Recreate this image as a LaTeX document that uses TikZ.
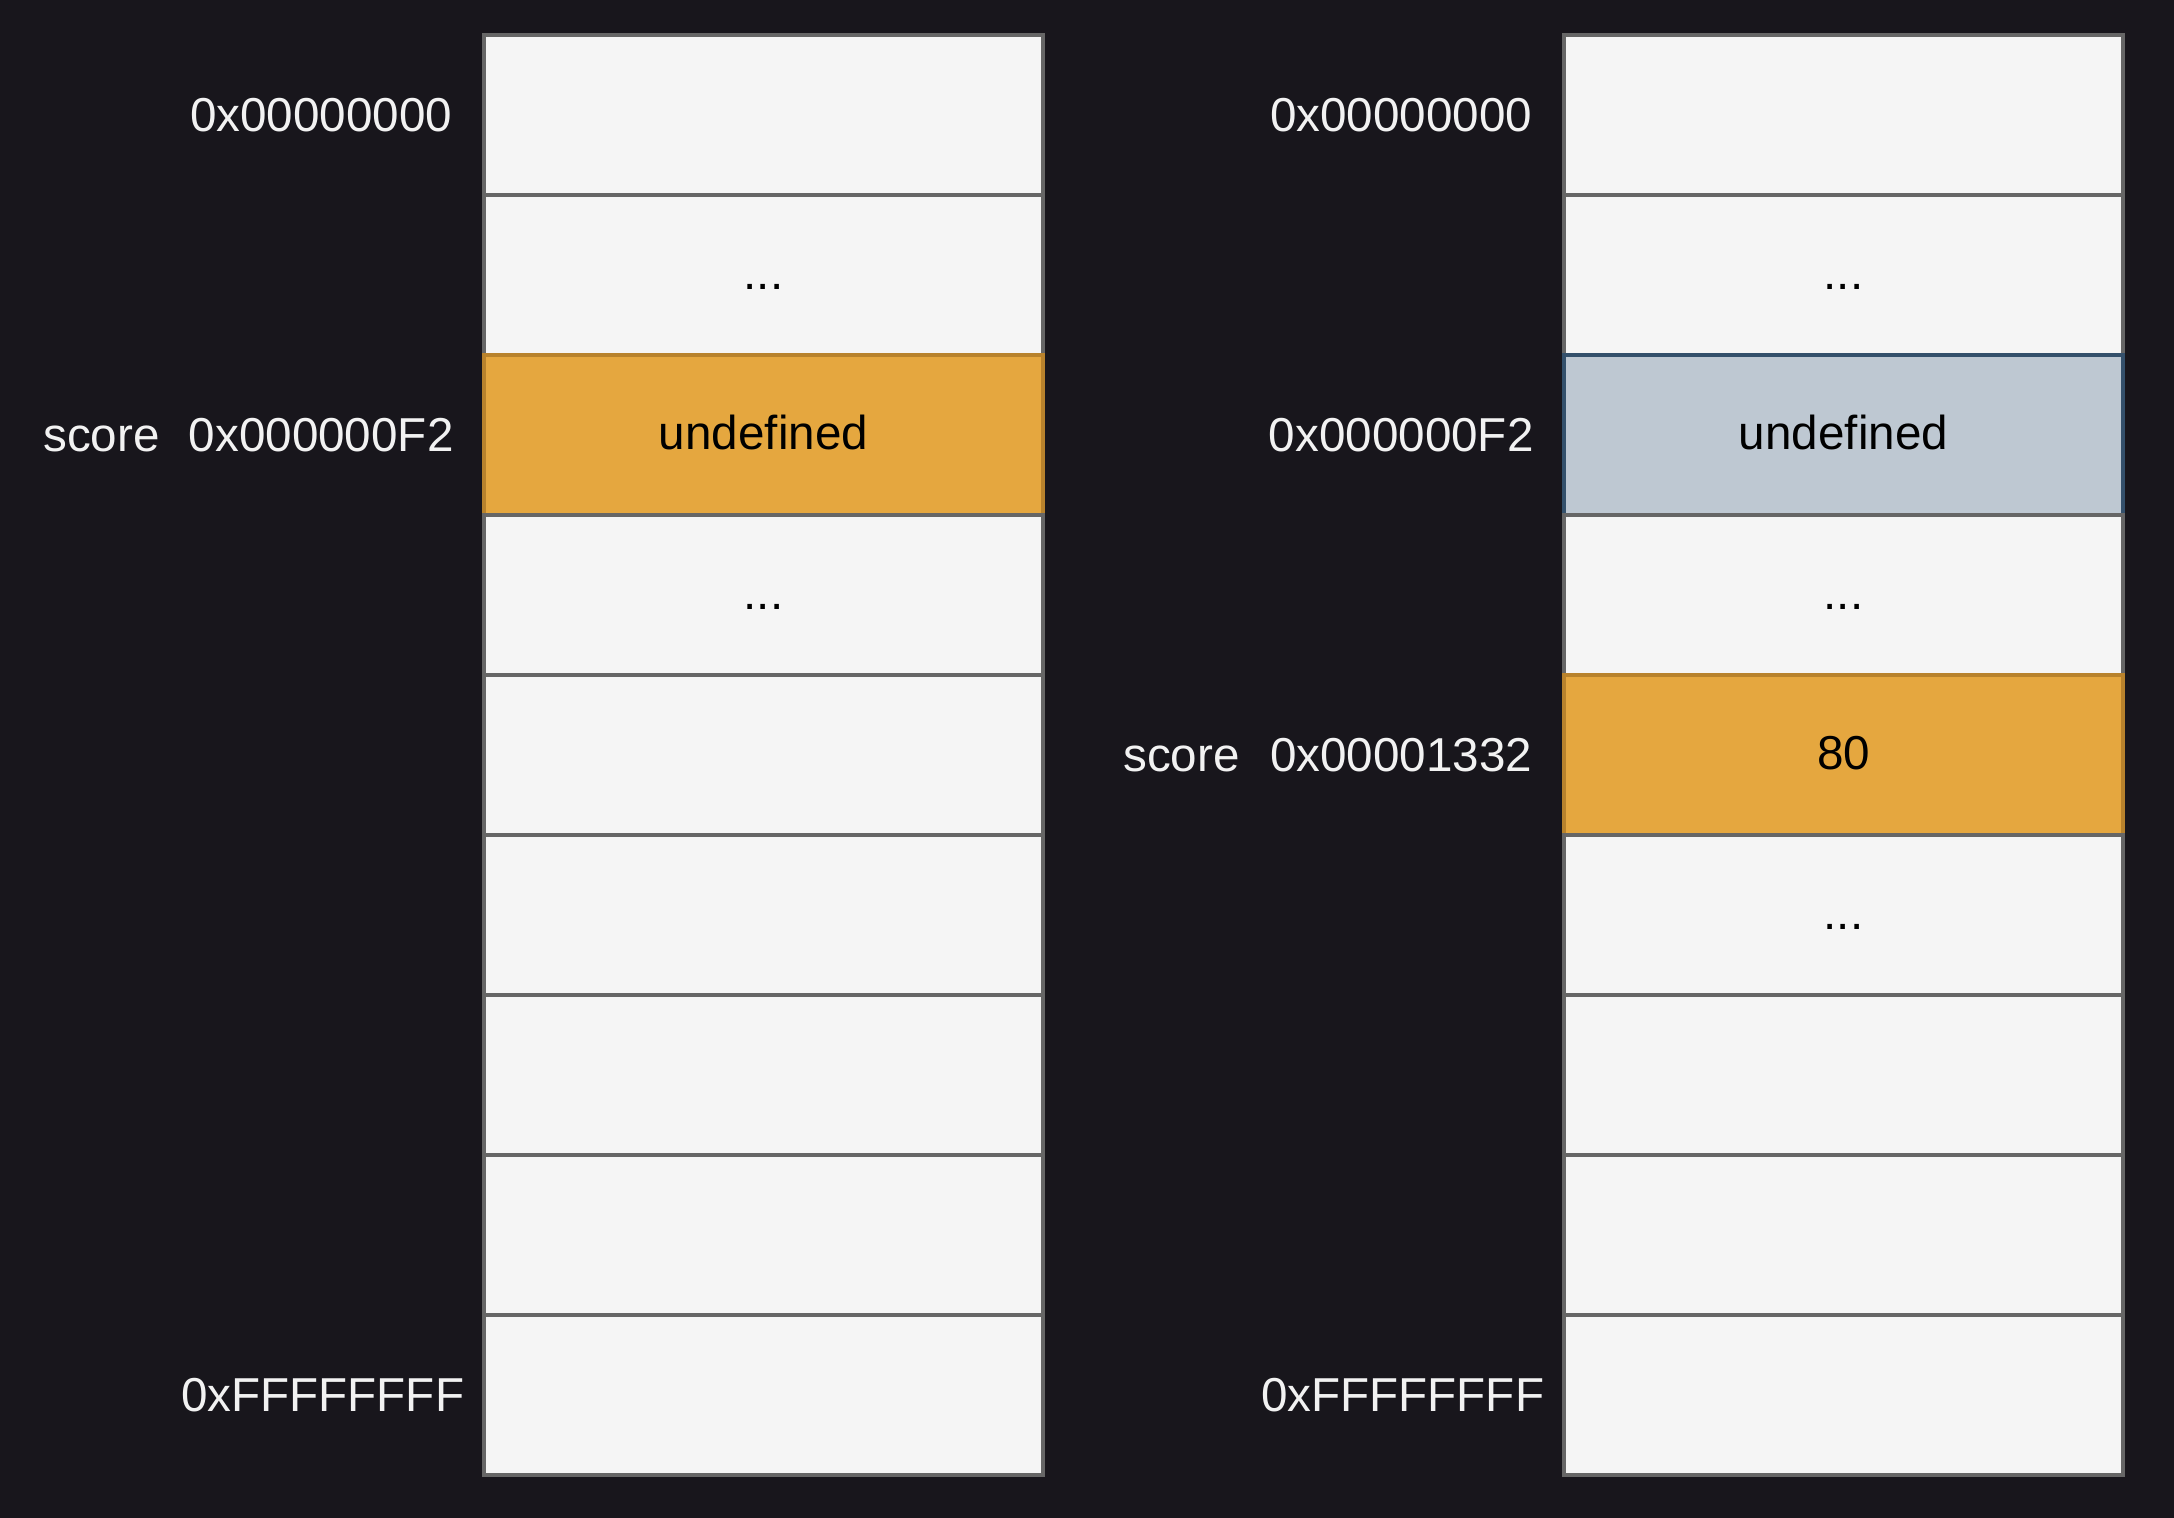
\documentclass[tikz,border=0pt]{standalone}
\usepackage{fontspec}
\setmainfont{Liberation Sans}
\usepackage{tikz}
\usetikzlibrary{positioning}
\usepackage{xcolor}
\definecolor{memBack}{HTML}{18161C}
\definecolor{memCell}{HTML}{F5F5F5}
\definecolor{memBorder}{HTML}{666666}
\definecolor{memVar}{HTML}{E5A73F}
\definecolor{memVarBorder}{HTML}{B8822C}
\definecolor{memOld}{HTML}{BEC8D2}
\definecolor{memOldBorder}{HTML}{34506B}
\definecolor{memText}{HTML}{F2F2F2}
\tikzset{
    memfont/.style={font=\fontsize{11.9}{14}\selectfont},
    cell/.style={rectangle,draw=memBorder,fill=memCell,line width=0.85pt,minimum width=139.75pt,minimum height=40pt,inner sep=0pt,outer sep=0pt,text height=0.73em,text depth=0pt,memfont,text=black},
    varcell/.style={cell,draw=memVarBorder,fill=memVar},
    oldcell/.style={cell,draw=memOldBorder,fill=memOld},
    addr/.style={text width=70pt,align=center,inner sep=0pt,memfont,text=memText},
    varname/.style={inner sep=0pt,memfont,text=memText}
}

\begin{document}
\begin{tikzpicture}[x=0.25pt,y=-0.25pt]
  % Background
  \fill[memBack] (0,0) rectangle (2174,1518);

  % Memory before
  \node[cell] (a1) at (763.5,115) {};
  \node[cell,below=0pt of a1] (a2) {...};
  \node[varcell,below=0pt of a2] (a3) {undefined};
  \node[cell,below=0pt of a3] (a4) {...};
  \node[cell,below=0pt of a4] (a5) {};
  \node[cell,below=0pt of a5] (a6) {};
  \node[cell,below=0pt of a6] (a7) {};
  \node[cell,below=0pt of a7] (a8) {};
  \node[cell,below=0pt of a8] (a9) {};

  % Memory after
  \node[cell] (b1) at (1843.5,115) {};
  \node[cell,below=0pt of b1] (b2) {...};
  \node[oldcell,below=0pt of b2] (b3) {undefined};
  \node[cell,below=0pt of b3] (b4) {...};
  \node[varcell,below=0pt of b4] (b5) {80};
  \node[cell,below=0pt of b5] (b6) {...};
  \node[cell,below=0pt of b6] (b7) {};
  \node[cell,below=0pt of b7] (b8) {};
  \node[cell,below=0pt of b8] (b9) {};

  % Addresses
  \node[addr,left=5.5pt of a1] (addrA1) {0x00000000};
  \node[addr,left=5.5pt of a3] (addrA3) {0x000000F2};
  \node[addr,left=5.5pt of a9] (addrA9) {0xFFFFFFFF};
  \node[addr,left=5.5pt of b1] (addrB1) {0x00000000};
  \node[addr,left=5.5pt of b3] (addrB3) {0x000000F2};
  \node[addr,left=5.5pt of b5] (addrB5) {0x00001332};
  \node[addr,left=5.5pt of b9] (addrB9) {0xFFFFFFFF};

  % Variable names
  \node[varname,left=5pt of addrA3.base west,anchor=base east] (scoreA) {score};
  \node[varname,left=5pt of addrB5.base west,anchor=base east] (scoreB) {score};
\end{tikzpicture}
\end{document}
